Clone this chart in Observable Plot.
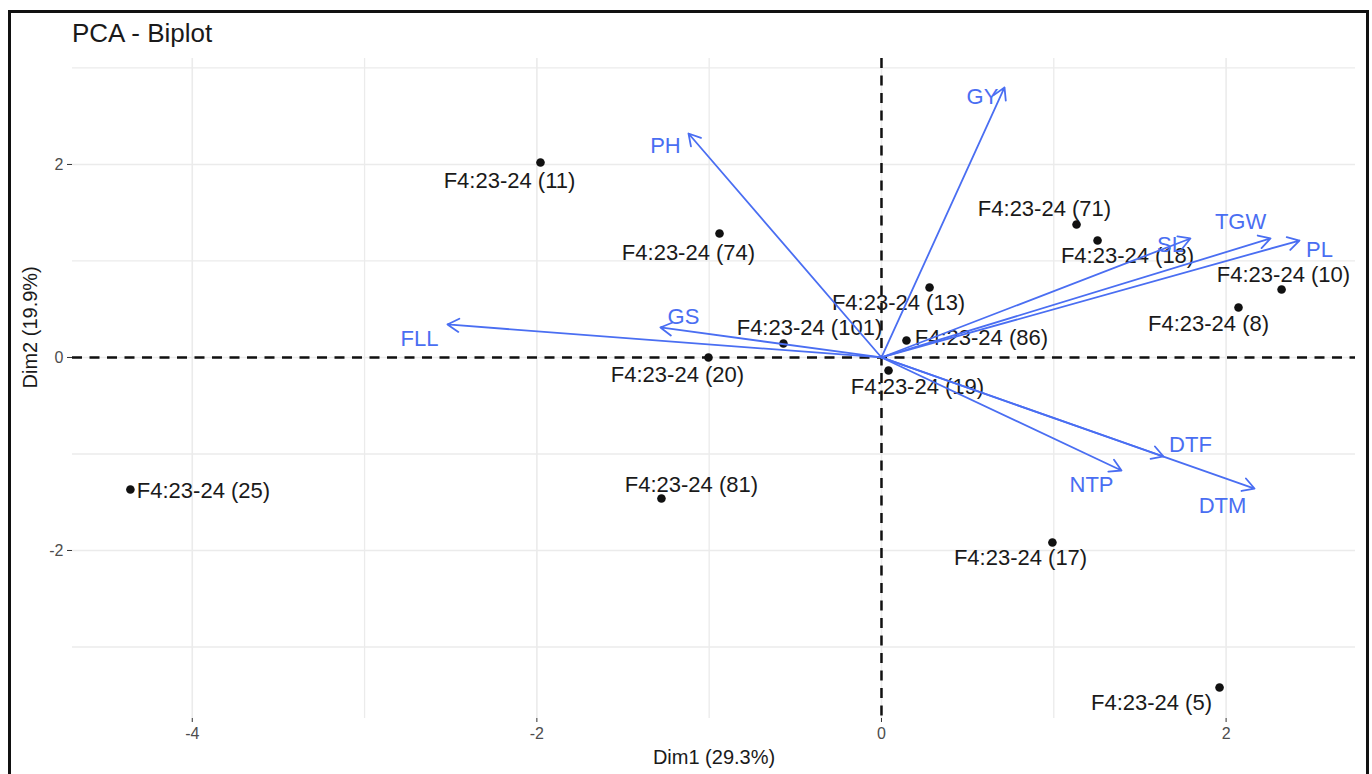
<!DOCTYPE html>
<html>
<head>
<meta charset="utf-8">
<script src="https://cdn.jsdelivr.net/npm/d3@7"></script>
<script src="https://cdn.jsdelivr.net/npm/@observablehq/plot@0.6"></script>
<style>
  html, body { margin: 0; padding: 0; background: #fff; overflow: hidden; }
  body { width: 1372px; height: 774px; position: relative; font-family: "Liberation Sans", Arial, sans-serif; }
  #frame { position: absolute; left: 8px; top: 10px; width: 1361px; height: 820px; border: 3px solid #111; box-sizing: border-box; pointer-events: none; }
  #title { position: absolute; left: 72px; top: 20px; font-size: 26px; line-height: 26px; color: #1a1a1a; white-space: nowrap; }
  #chart { position: absolute; left: 0; top: 48px; }
</style>
</head>
<body>
<div id="frame"></div>
<div id="title">PCA - Biplot</div>
<div id="chart"></div>
<script>
// Individuals (genotypes)
const indNames = ["F4:23-24 (11)", "F4:23-24 (74)", "F4:23-24 (71)", "F4:23-24 (18)", "F4:23-24 (10)",
  "F4:23-24 (8)", "F4:23-24 (13)", "F4:23-24 (101)", "F4:23-24 (86)", "F4:23-24 (20)",
  "F4:23-24 (19)", "F4:23-24 (25)", "F4:23-24 (81)", "F4:23-24 (17)", "F4:23-24 (5)"];
const indDim1 = [-1.979, -0.940, 1.132, 1.254, 2.322, 2.072, 0.279, -0.569, 0.145, -1.004, 0.041, -4.359, -1.277, 0.992, 1.962];
const indDim2 = [2.021, 1.285, 1.378, 1.212, 0.705, 0.518, 0.725, 0.145, 0.176, 0.000, -0.135, -1.368, -1.461, -1.917, -3.420];
// repelled label anchors (data units)
const indLabelDim1 = [-2.159, -1.120, 0.946, 1.428, 2.333, 1.898, 0.099, -0.418, 0.580, -1.184, 0.209, -3.935, -1.103, 0.807, 1.567];
const indLabelDim2 = [1.834, 1.088, 1.534, 1.047, 0.850, 0.352, 0.570, 0.301, 0.207, -0.176, -0.301, -1.378, -1.316, -2.073, -3.575];

// Variables (loadings, scaled)
const varNames = ["GY", "PH", "SL", "TGW", "PL", "GS", "FLL", "DTF", "NTP", "DTM"];
const varDim1 = [0.714, -1.120, 1.793, 2.258, 2.426, -1.283, -2.519, 1.637, 1.393, 2.165];
const varDim2 = [2.798, 2.321, 1.233, 1.233, 1.212, 0.311, 0.342, -1.026, -1.171, -1.358];
const varLabelDim1 = [0.586, -1.254, 1.677, 2.084, 2.542, -1.149, -2.681, 1.793, 1.219, 1.979];
const varLabelDim2 = [2.700, 2.187, 1.161, 1.409, 1.109, 0.425, 0.197, -0.902, -1.326, -1.534];

const xMajor = [-4, -2, 0, 2];
const xMinor = [-3, -1, 1];
const yMajor = [-2, 0, 2];
const yMinor = [-3, -1, 1, 3];
const xTitle = "Dim1 (29.3%)";
const yTitle = "Dim2 (19.9%)";

const inds = indNames.map((n, i) => ({name: n, x: indDim1[i], y: indDim2[i], lx: indLabelDim1[i], ly: indLabelDim2[i]}));
const vars = varNames.map((n, i) => ({name: n, x: varDim1[i], y: varDim2[i], lx: varLabelDim1[i], ly: varLabelDim2[i]}));

const blue = "#4a6ef2";
const gridColor = "#ebebeb";

const chart = Plot.plot({
  width: 1372,
  height: 726,
  marginLeft: 72,
  marginRight: 17,
  marginTop: 10,
  marginBottom: 56,
  style: {fontFamily: "'Liberation Sans', Arial, sans-serif", background: "transparent"},
  x: {domain: [-4.695, 2.751]},
  y: {domain: [-3.741, 3.098]},
  marks: [
    Plot.ruleX(xMinor, {stroke: gridColor, strokeWidth: 1.3}),
    Plot.ruleY(yMinor, {stroke: gridColor, strokeWidth: 1.3}),
    Plot.ruleX(xMajor, {stroke: gridColor, strokeWidth: 1.6}),
    Plot.ruleY(yMajor, {stroke: gridColor, strokeWidth: 1.6}),
    Plot.ruleX([0], {stroke: "#111", strokeWidth: 2.5, strokeDasharray: "10,7.5"}),
    Plot.ruleY([0], {stroke: "#111", strokeWidth: 2.5, strokeDasharray: "10,7.5"}),
    Plot.axisX({ticks: xMajor, tickSize: 4, tickPadding: 5, fontSize: 16, color: "#4d4d4d", stroke: "#333", tickFormat: d => String(d), label: null}),
    Plot.axisY({ticks: yMajor, tickSize: 5, tickPadding: 4, fontSize: 16, color: "#4d4d4d", stroke: "#333", tickFormat: d => String(d), label: null}),
    Plot.dot(inds, {x: "x", y: "y", r: 4.3, fill: "#111", stroke: null}),
    Plot.text(inds, {x: "lx", y: "ly", text: "name", fontSize: 22, fill: "#1a1a1a", textAnchor: "middle", lineAnchor: "middle"}),
    Plot.arrow(vars, {x1: d => 0, y1: d => 0, x2: "x", y2: "y", stroke: blue, strokeWidth: 1.8, headLength: 11, headAngle: 60, insetEnd: 0}),
    Plot.text(vars, {x: "lx", y: "ly", text: "name", fontSize: 22, fill: blue, textAnchor: "middle", lineAnchor: "middle"}),
    Plot.text([xTitle], {frameAnchor: "bottom", dy: 39, text: d => d, fontSize: 20, fill: "#1a1a1a", lineAnchor: "middle"}),
    Plot.text([yTitle], {frameAnchor: "left", dx: -42, rotate: -90, text: d => d, fontSize: 20, fill: "#1a1a1a", lineAnchor: "middle"})
  ]
});
document.getElementById("chart").appendChild(chart);
</script>
</body>
</html>
